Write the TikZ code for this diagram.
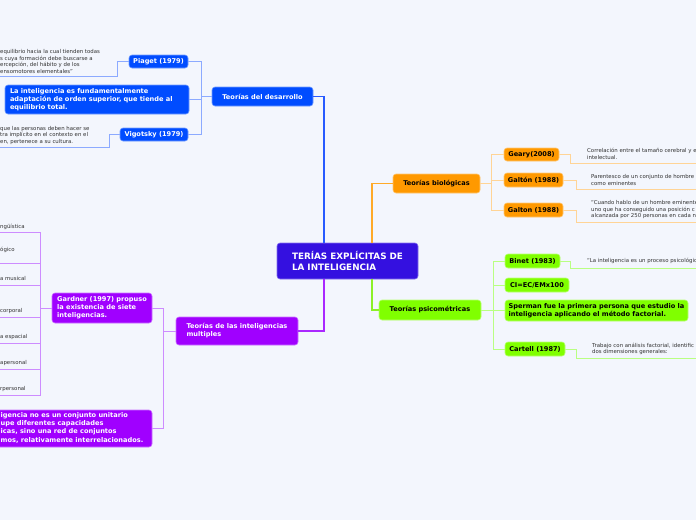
\documentclass[tikz,border=0pt]{standalone}
\usepackage{fontspec}
\setmainfont{DejaVu Sans}
\definecolor{bg}{RGB}{243,246,253}
\definecolor{centerN}{RGB}{52,16,224}
\definecolor{blueN}{RGB}{0,76,255}
\definecolor{blueL}{RGB}{140,170,255}
\definecolor{blueM}{RGB}{40,90,255}
\definecolor{orangeN}{RGB}{255,153,0}
\definecolor{orangeL}{RGB}{255,212,150}
\definecolor{orangeM}{RGB}{255,170,40}
\definecolor{greenN}{RGB}{128,255,0}
\definecolor{greenL}{RGB}{185,255,130}
\definecolor{greenM}{RGB}{140,240,40}
\definecolor{purpleN}{RGB}{160,0,255}
\definecolor{purpleL}{RGB}{205,140,255}
\definecolor{purpleM}{RGB}{170,40,255}
\definecolor{noteC}{RGB}{50,50,50}
\begin{document}
\begin{tikzpicture}[x=1pt,y=-1pt,
  nb/.style={rounded corners=3pt, inner sep=0pt, font=\fontsize{6.6}{8}\selectfont\bfseries, line width=0.6pt, align=left},
  boxB/.style={nb, fill=blueN, draw=blueN!55!white, text=white},
  boxO/.style={nb, fill=orangeN, draw=orangeN!55!white, text=black},
  boxG/.style={nb, fill=greenN, draw=greenN!55!white, text=black},
  boxP/.style={nb, fill=purpleN, draw=purpleN!55!white, text=white},
  note/.style={inner sep=0pt, font=\fontsize{5.4}{6.7}\selectfont, text=noteC, align=left, anchor=north west},
  leaf/.style={inner sep=0pt, font=\fontsize{5.4}{6.7}\selectfont, text=noteC, anchor=west},
  mainline/.style={line width=1.3pt},
  subline/.style={line width=1pt},
  uline/.style={line width=0.8pt},
]
\useasboundingbox (0,0) rectangle (696,520);
\clip (0,0) rectangle (696,520);
\fill[bg] (0,0) rectangle (696,520);

% central
\node[nb, fill=centerN, draw=centerN!60!white, text=white, font=\fontsize{8.8}{10.8}\selectfont\bfseries, minimum width=141pt, minimum height=36pt] (cen) at (347.5,261) {TERÍAS EXPLÍCITAS DE\\LA INTELIGENCIA};

% main branches
\node[boxB, minimum width=101pt, minimum height=19pt] (dev) at (262.5,96.5) {Teorías del desarrollo};
\node[boxO, minimum width=87pt, minimum height=19pt] (bio) at (436.5,183.5) {Teorías biológicas};
\node[boxG, minimum width=102pt, minimum height=20pt] (psy) at (430,310) {Teorías psicométricas};
\node[boxP, minimum width=122pt, minimum height=28pt] (mul) at (237,331) {Teorías de las inteligencias\\multiples};

% blue children
\node[boxB, minimum width=59pt, minimum height=13pt] (piaget) at (158.5,61.5) {Piaget (1979)};
\node[boxB, minimum width=184pt, minimum height=29pt, text width=174pt, inner xsep=5pt] (adap) at (97,99.5) {La inteligencia es fundamentalmente\\adaptación de orden superior, que tiende al\\equilibrio total.};
\node[boxB, minimum width=68pt, minimum height=13pt] (vig) at (154,134.5) {Vigotsky (1979)};

% orange children
\node[boxO, minimum width=55pt, minimum height=13pt] (geary) at (531.5,154.5) {Geary(2008)};
\node[boxO, minimum width=59pt, minimum height=14pt] (galtonA) at (533.5,180) {Galtón (1988)};
\node[boxO, minimum width=59pt, minimum height=14pt] (galtonB) at (533.5,210) {Galton (1988)};

% green children
\node[boxG, minimum width=55pt, minimum height=14pt] (binet) at (532.5,261) {Binet (1983)};
\node[boxG, minimum width=64pt, minimum height=14pt] (ci) at (537,285) {CI=EC/EMx100};
\node[boxG, minimum width=183pt, minimum height=21pt] (sper) at (596.5,310.5) {Sperman fue la primera persona que estudio la\\inteligencia aplicando el método factorial.};
\node[boxG, minimum width=60pt, minimum height=14pt] (cart) at (535,349) {Cartell (1987)};

% purple children
\node[boxP, minimum width=100pt, minimum height=30pt] (gard) at (102,308) {Gardner (1997) propuso\\la existencia de siete\\inteligencias.};
\node[boxP, minimum width=172pt, minimum height=37pt] (bot) at (66,428.5) {};
\node[inner sep=0pt, anchor=north west, align=left, text=white, font=\fontsize{6.6}{8.3}\selectfont\bfseries] (botT) at (0.5,412) {igencia no es un conjunto unitario\\upe diferentes capacidades\\icas, sino una red de conjuntos\\mos, relativamente interrelacionados.};

% notes
\node[note] (pn) at (0,49.2) {equilibrio hacia la cual tienden todas\\s cuya formación debe buscarse a\\ercepción, del hábito y de los\\ensomotores elementales”};
\node[note] (vn) at (0,125.8) {que las personas deben hacer se\\tra implícito en el contexto en el\\en, pertenece a su cultura.};
\node[note] (gn) at (587,148.2) {Correlación entre el tamaño cerebral y e\\intelectual.};
\node[note] (gan) at (591,174.2) {Parentesco de un conjunto de hombre\\como eminentes};
\node[note, font=\fontsize{5.4}{6.9}\selectfont] (gbn) at (591,199.8) {“Cuando hablo de un hombre eminente\\uno que ha conseguido una posición c\\alcanzada por 250 personas en cada n};
\node[note] (bn) at (587,258.2) {“La inteligencia es un proceso psicológic};
\node[note] (cn) at (592,342.5) {Trabajo con análisis factorial, identific\\dos dimensiones generales:};

% Gardner leaves
\node[leaf] (l1) at (0,227) {ngüística};
\node[leaf] (l2) at (0,250) {ógico};
\node[leaf] (l3) at (0,278.5) {a musical};
\node[leaf] (l4) at (0,311) {corporal};
\node[leaf] (l5) at (0,337) {a espacial};
\node[leaf] (l6) at (0,363) {apersonal};
\node[leaf] (l7) at (0,389) {rpersonal};

% main connectors
\draw[mainline, blueM] ([xshift=-23.5pt]cen.north) |- (dev.east);
\draw[mainline, orangeM] ([xshift=24.5pt]cen.north) |- (bio.west);
\draw[mainline, greenM] ([xshift=24.5pt]cen.south) |- (psy.west);
\draw[mainline, purpleM] ([xshift=-23.5pt]cen.south) |- (mul.east);

% blue branch
\coordinate (dj) at ([xshift=-10pt]dev.west);
\draw[subline, blueL] (dev.west) -- (dj);
\draw[subline, blueL] (dj) |- (piaget.east);
\draw[subline, blueL] (dj) |- (adap.east);
\draw[subline, blueL] (dj) |- (vig.east);
\coordinate (pk) at ([xshift=-11pt]piaget.west);
\coordinate (pe) at (0,76);
\draw[uline, blueL] (piaget.west) -- (pk) |- (pe);
\coordinate (vk) at ([xshift=-10pt]vig.west);
\coordinate (ve) at (0,147);
\draw[uline, blueL] (vig.west) -- (vk) |- (ve);

% orange branch
\coordinate (bj) at ([xshift=11pt]bio.east);
\draw[subline, orangeL] (bio.east) -- (bj);
\draw[subline, orangeL] (bj) |- (geary.west);
\draw[subline, orangeL] (bj) |- (galtonA.west);
\draw[subline, orangeL] (bj) |- (galtonB.west);
\coordinate (gk) at ([xshift=11pt]geary.east);
\coordinate (ge) at (696,163);
\draw[uline, orangeL] (geary.east) -- (gk) |- (ge);
\coordinate (gak) at ([xshift=13pt]galtonA.east);
\coordinate (gae) at (696,189);
\draw[uline, orangeL] (galtonA.east) -- (gak) |- (gae);
\coordinate (gbk) at ([xshift=13pt]galtonB.east);
\coordinate (gbe) at (696,222);
\draw[uline, orangeL] (galtonB.east) -- (gbk) |- (gbe);

% green branch
\coordinate (pj) at ([xshift=12pt]psy.east);
\draw[subline, greenL] (psy.east) -- (pj);
\draw[subline, greenL] (pj) |- (binet.west);
\draw[subline, greenL] (pj) |- (ci.west);
\draw[subline, greenL] (pj) |- (sper.west);
\draw[subline, greenL] (pj) |- (cart.west);
\coordinate (bk) at ([xshift=10pt]binet.east);
\coordinate (be) at (696,268);
\draw[uline, greenL] (binet.east) -- (bk) |- (be);
\coordinate (ck) at ([xshift=11pt]cart.east);
\coordinate (ce) at (696,358);
\draw[uline, greenL] (cart.east) -- (ck) |- (ce);

% purple branch
\coordinate (mj) at ([xshift=-12pt]mul.west);
\draw[subline, purpleL] (mul.west) -- (mj);
\draw[subline, purpleL] (mj) |- (gard.east);
\draw[subline, purpleL] (mj) |- (bot.east);
\coordinate (gj) at ([xshift=-11pt]gard.west);
\draw[subline, purpleL] (gard.west) -- (gj);
\foreach \yy/\nm in {232/u1,263/u2,285/u3,317/u4,343/u5,369/u6,395/u7}{
  \coordinate (\nm) at (0,\yy);
  \draw[uline, purpleL] (gj) |- (\nm);
}
\end{tikzpicture}
\end{document}
